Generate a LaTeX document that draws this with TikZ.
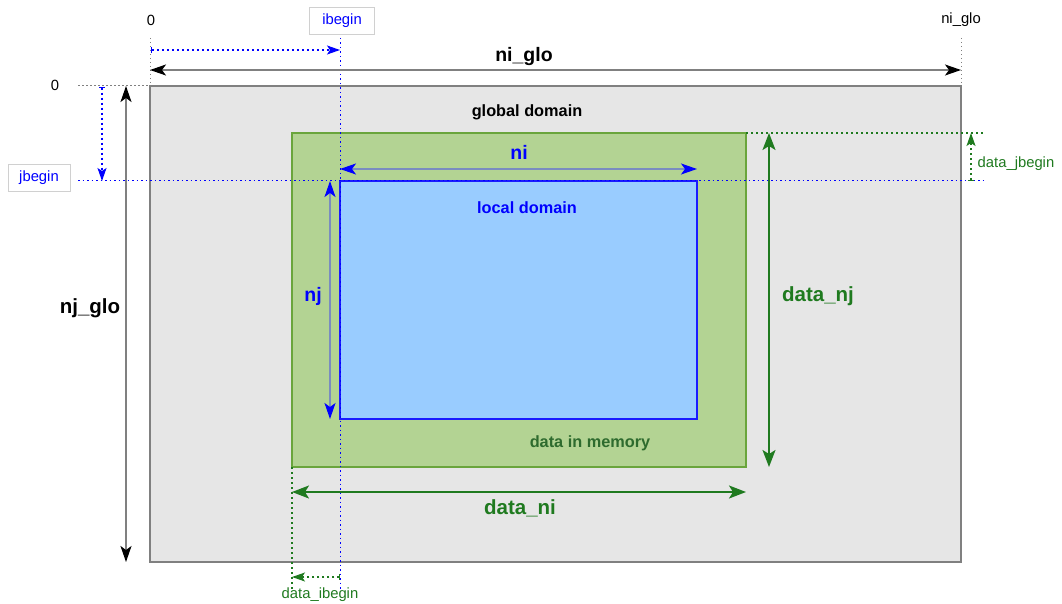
\documentclass[tikz,border=0pt]{standalone}
\usepackage{fontspec}
\setmainfont{Liberation Sans}
\usetikzlibrary{arrows.meta}
\definecolor{globfill}{HTML}{E6E6E6}
\definecolor{globline}{HTML}{808080}
\definecolor{datafill}{HTML}{B3D393}
\definecolor{dataline}{HTML}{6AA53C}
\definecolor{locfill}{HTML}{99CCFF}
\definecolor{locline}{HTML}{1A1AFF}
\definecolor{dgreen}{HTML}{1F7A1F}
\definecolor{tgreen}{HTML}{2E6B2E}
\definecolor{bluegray}{HTML}{7A8CC0}
\definecolor{boxline}{HTML}{D0D0D0}
\begin{document}
\begin{tikzpicture}[x=1pt,y=-1pt,
  dimblack/.style={draw=globline,line width=1.4pt,{Stealth[length=16pt,width=11pt,inset=4pt,color=black]}-{Stealth[length=16pt,width=11pt,inset=4pt,color=black]}},
  dimblue/.style={draw=bluegray,line width=1.4pt,{Stealth[length=16pt,width=11pt,inset=4pt,color=blue]}-{Stealth[length=16pt,width=11pt,inset=4pt,color=blue]}},
  dimgreen/.style={draw=dgreen,line width=1.8pt,{Stealth[length=17pt,width=13pt,inset=4pt]}-{Stealth[length=17pt,width=13pt,inset=4pt]}},
  dotgray/.style={draw=gray,line width=1pt,dash pattern=on 1.5pt off 2.5pt},
  dotblue/.style={draw=blue,line width=1pt,dash pattern=on 1.5pt off 3pt},
  dotgreen/.style={draw=dgreen,line width=1.1pt,dash pattern=on 2pt off 3pt},
  offblue/.style={draw=blue,line width=1.3pt,dash pattern=on 2.5pt off 2.5pt,{Bar[width=6pt,line width=1pt]}-{Stealth[length=13pt,width=9pt,inset=3pt]}},
  offgreen/.style={draw=dgreen,line width=1.3pt,dash pattern=on 2.5pt off 2.5pt,{Bar[width=6pt,line width=1pt]}-{Stealth[length=13pt,width=9pt,inset=3pt]}},
  small/.style={font=\fontsize{14.8}{16}\selectfont,inner sep=0pt},
  tagbox/.style={small,draw=boxline,fill=white,text=blue,line width=0.8pt,minimum height=27pt},
  bigl/.style={font=\bfseries\fontsize{20.5}{22}\selectfont,inner sep=0pt},
  midl/.style={font=\bfseries\fontsize{19.5}{21}\selectfont,inner sep=0pt},
  boxl/.style={font=\bfseries\fontsize{16.3}{18}\selectfont,inner sep=0pt}
]
\useasboundingbox (0,0) rectangle (1062,604);
% rectangles
\draw[fill=globfill,draw=globline,line width=1.2pt] (150,86) rectangle (961,562);
\draw[fill=datafill,draw=dataline,line width=1.8pt] (292,133) rectangle (746,467);
\draw[fill=locfill,draw=locline,line width=1.8pt] (340,181) rectangle (697,419);
% coordinates
\coordinate (gx0t) at (150,38); \coordinate (gx0b) at (150,86);
\coordinate (gx1t) at (961,38); \coordinate (gx1b) at (961,86);
\coordinate (ibt) at (340,38); \coordinate (ibb) at (340,590);
\coordinate (y0l) at (78,86); \coordinate (y0r) at (150,86);
\coordinate (jbl) at (78,181); \coordinate (jbr) at (985,181);
\coordinate (djl) at (746,133); \coordinate (djr) at (985,133);
\coordinate (dit) at (292,467); \coordinate (dib) at (292,590);
% dotted guide lines
\draw[dotgray] (gx0t) -- (gx0b);
\draw[dotgray] (gx1t) -- (gx1b);
\draw[dotgray] (y0l) -- (y0r);
\draw[dotblue] (ibt) -- (ibb);
\draw[dotblue] (jbl) -- (jbr);
\draw[dotgreen] (djl) -- (djr);
\draw[dotgreen] (dit) -- (dib);
% offset arrows
\coordinate (iba) at (151,50); \coordinate (ibz) at (340,50);
\draw[offblue] (iba) -- (ibz);
\coordinate (jba) at (102,87); \coordinate (jbz) at (102,181);
\draw[offblue] (jba) -- (jbz);
\coordinate (djba) at (971,181); \coordinate (djbz) at (971,133);
\draw[offgreen] (djba) -- (djbz);
\coordinate (diba) at (340,577); \coordinate (dibz) at (292,577);
\draw[offgreen] (diba) -- (dibz);
% dimension arrows
\coordinate (nga) at (150,70); \coordinate (ngz) at (961,70);
\draw[dimblack] (nga) -- (ngz);
\coordinate (nja) at (126,86); \coordinate (njz) at (126,562);
\draw[dimblack] (nja) -- (njz);
\coordinate (nia) at (340,169); \coordinate (niz) at (697,169);
\draw[dimblue] (nia) -- (niz);
\coordinate (nla) at (330,181); \coordinate (nlz) at (330,419);
\draw[dimblue] (nla) -- (nlz);
\coordinate (dnja) at (769,133); \coordinate (dnjz) at (769,467);
\draw[dimgreen] (dnja) -- (dnjz);
\coordinate (dnia) at (292,492); \coordinate (dniz) at (746,492);
\draw[dimgreen] (dnia) -- (dniz);
% labels
\node[small] (tzero) at (151,20) {0};
\node[small] (tniglo) at (961,20) {ni\_glo};
\node[tagbox,minimum width=65pt] (tib) at (342,21) {ibegin};
\node[small] (lzero) at (55,85) {0};
\node[tagbox,minimum width=62pt] (ljb) at (39,178) {jbegin};
\node[midl] (lniglo) at (524,57) {ni\_glo};
\node[bigl] (lnjglo) at (90,308) {nj\_glo};
\node[boxl] (lglob) at (527,112) {global domain};
\node[midl,text=blue] (lni) at (519,152) {ni};
\node[midl,text=blue] (lnj) at (313,296) {nj};
\node[boxl,text=blue] (lloc) at (527,208) {local domain};
\node[boxl,text=tgreen] (lmem) at (590,443) {data in memory};
\node[bigl,text=dgreen] (ldnj) at (818,296) {data\_nj};
\node[bigl,text=dgreen] (ldni) at (520,508) {data\_ni};
\node[small,text=dgreen] (ldjb) at (1016,164) {data\_jbegin};
\node[small,text=dgreen] (ldib) at (320,595) {data\_ibegin};
\end{tikzpicture}
\end{document}
